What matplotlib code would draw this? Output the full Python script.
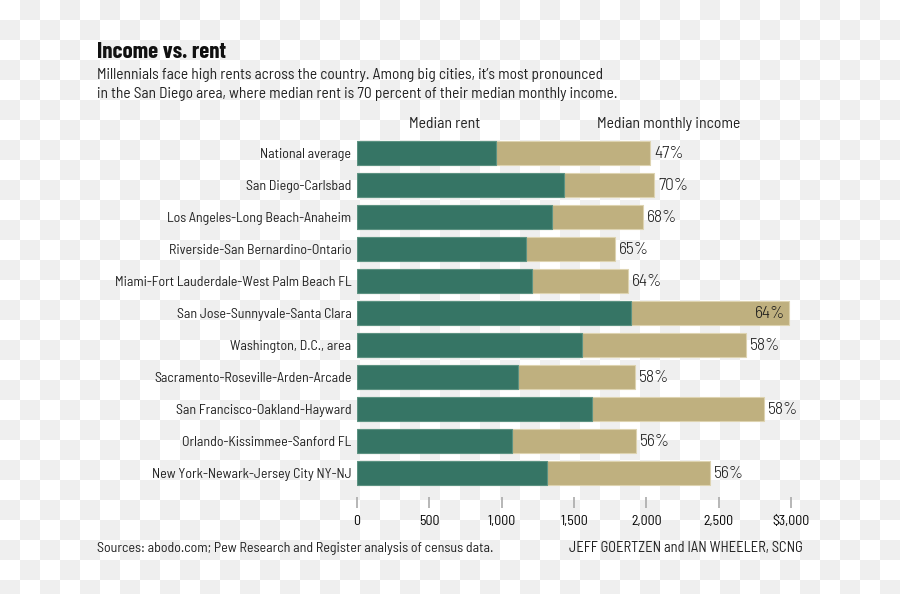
import numpy as np
import matplotlib
matplotlib.use("Agg")
import matplotlib.pyplot as plt

BODY = ["Barlow Semi Condensed", "DejaVu Sans"]
TITLE = ["Barlow Condensed", "DejaVu Sans"]
plt.rcParams['font.family'] = BODY

categories = ["National average", "San Diego-Carlsbad", "Los Angeles-Long Beach-Anaheim",
              "Riverside-San Bernardino-Ontario", "Miami-Fort Lauderdale-West Palm Beach FL",
              "San Jose-Sunnyvale-Santa Clara", "Washington, D.C., area",
              "Sacramento-Roseville-Arden-Arcade", "San Francisco-Oakland-Hayward",
              "Orlando-Kissimmee-Sanford FL", "New York-Newark-Jersey City NY-NJ"]
median_rent = [961, 1431, 1348, 1168, 1209, 1894, 1555, 1113, 1624, 1071, 1313]
median_income = [2025, 2053, 1977, 1783, 1873, 2986, 2688, 1921, 2813, 1928, 2440]
pct_labels = ["47%", "70%", "68%", "65%", "64%", "64%", "58%", "58%", "58%", "56%", "56%"]
x_ticks = [0, 500, 1000, 1500, 2000, 2500, 3000]
x_ticklabels = ["0", "500", "1,000", "1,500", "2,000", "2,500", "$3,000"]

W, H = 900, 594
fig = plt.figure(figsize=(W / 100, H / 100), dpi=100)

# checkerboard background
bg = fig.add_axes([0, 0, 1, 1], zorder=-10)
nr, nc = 30, 45
ii, jj = np.indices((nr, nc))
board = np.where((ii + jj) % 2 == 1, 0.937, 1.0)
bg.imshow(board, cmap="gray", vmin=0, vmax=1, extent=(0, nc * 20, nr * 20, 0),
          interpolation="nearest", aspect="auto")
bg.set_xlim(0, W)
bg.set_ylim(H, 0)
bg.axis("off")

def px(x, y):
    return x / W, 1 - y / H

ax_l, ax_r, ax_t, ax_b = 357, 791, 137, 489
ax = fig.add_axes([ax_l / W, 1 - ax_b / H, (ax_r - ax_l) / W, (ax_b - ax_t) / H])
ax.patch.set_alpha(0)

GREEN = "#367565"
TAN = "#bfb07f"
y = np.arange(len(categories))
ax.barh(y, median_income, height=0.75, color=TAN, edgecolor="#ddd3b0", linewidth=0.8)
ax.barh(y, median_rent, height=0.75, color=GREEN, edgecolor="#5c9282", linewidth=0.8)

for i, (tot, lab) in enumerate(zip(median_income, pct_labels)):
    if tot > 2900:
        ax.text(tot - 25, i + 0.03, lab, ha="right", va="center", fontsize=12.5,
                fontweight=300, color="#1a1a1a")
    else:
        ax.text(tot + 28, i + 0.03, lab, ha="left", va="center", fontsize=12.5,
                fontweight=300, color="#1a1a1a")

ax.set_xlim(0, 3000)
ax.set_ylim(len(categories) - 0.5, -0.5)
ax.set_yticks(y)
ax.set_yticklabels(categories, fontsize=10, color="#222222")
ax.tick_params(axis="y", length=0, pad=4)
ax.set_xticks(x_ticks)
ax.set_xticklabels(x_ticklabels, fontsize=11.5, color="#333333", fontweight=300)
ax.tick_params(axis="x", length=8, width=1.2, color="#aaaaaa", pad=5, direction="out")
for s in ax.spines.values():
    s.set_visible(False)
ax.spines['bottom'].set_position(('outward', 6))

# titles
fig.text(*px(97, 58), "Income vs. rent", fontsize=16.5, fontweight="bold", color="#111111",
         ha="left", va="baseline", family=TITLE)
fig.text(*px(97, 79), "Millennials face high rents across the country. Among big cities, it\u2019s most pronounced",
         fontsize=11.1, color="#222222", ha="left", va="baseline")
fig.text(*px(97, 98), "in the San Diego area, where median rent is 70 percent of their median monthly income.",
         fontsize=11.1, color="#222222", ha="left", va="baseline")
fig.text(*px(445, 128), "Median rent", fontsize=11.3, color="#222222", ha="center", va="baseline")
fig.text(*px(669, 128), "Median monthly income", fontsize=11.3, color="#222222", ha="center", va="baseline")

# footer
fig.text(*px(97, 552), "Sources: abodo.com; Pew Research and Register analysis of census data.",
         fontsize=10.1, color="#222222", ha="left", va="baseline")
fig.text(*px(803, 552), "JEFF GOERTZEN and IAN WHEELER, SCNG",
         fontsize=10.4, color="#222222", ha="right", va="baseline")

fig.savefig("out.png", dpi=100)
